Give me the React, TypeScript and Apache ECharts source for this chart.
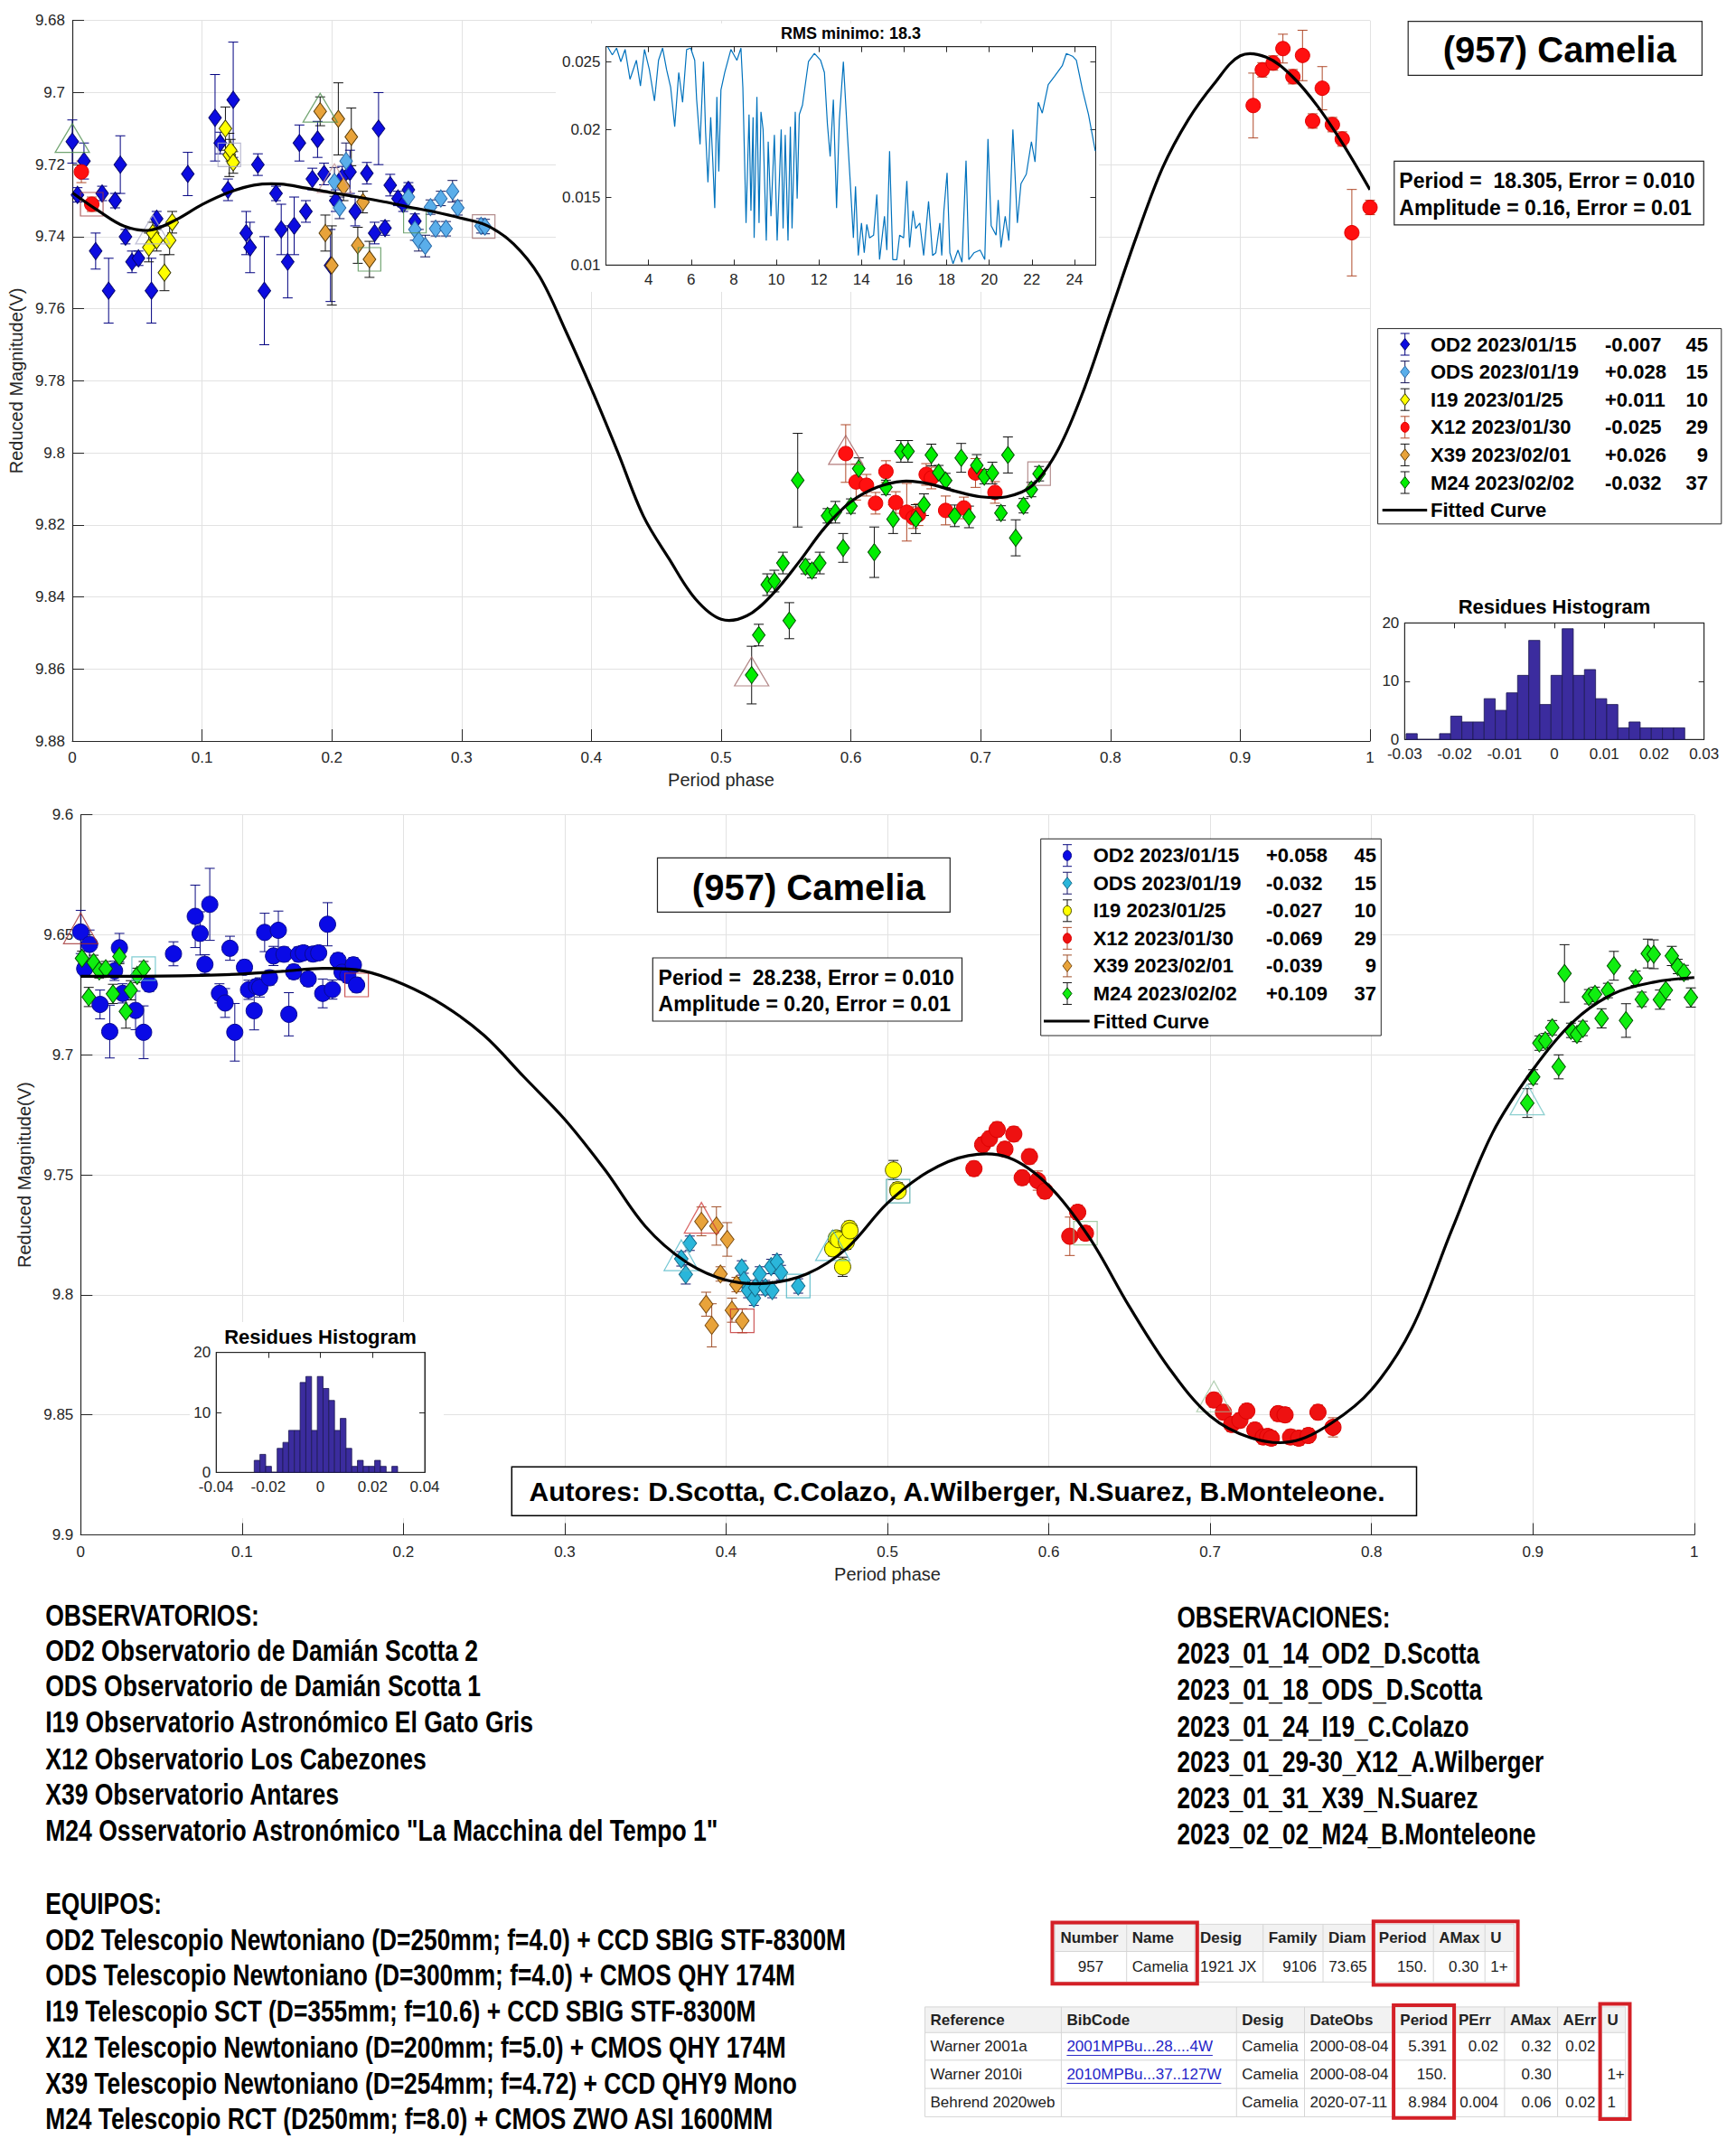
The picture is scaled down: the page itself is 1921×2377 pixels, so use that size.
import React, { useEffect, useRef } from "react";
import * as echarts from "echarts";

const FONT = '"Liberation Sans", Arial, Helvetica, sans-serif';
const AX = "#262626";
const GRIDC = "#e2e2e2";

// ---------------- TOP CHART (period 18.305 h) : [phase, reduced mag, error]
const topOD2 = [
  [0.000, 9.7136, 0.006], [0.004, 9.7284, 0.002], [0.009, 9.719, 0.005], [0.018, 9.744, 0.005], [0.023, 9.728, 0.002],
  [0.028, 9.755, 0.009], [0.033, 9.730, 0.002], [0.037, 9.720, 0.008], [0.041, 9.740, 0.002], [0.046, 9.747, 0.003],
  [0.051, 9.746, 0.002], [0.061, 9.755, 0.009], [0.065, 9.735, 0.002], [0.089, 9.7226, 0.006], [0.110, 9.707, 0.012],
  [0.114, 9.714, 0.003], [0.120, 9.727, 0.003], [0.124, 9.702, 0.016], [0.134, 9.739, 0.006], [0.137, 9.743, 0.007],
  [0.143, 9.720, 0.003], [0.148, 9.755, 0.015], [0.157, 9.728, 0.002], [0.161, 9.738, 0.007], [0.166, 9.747, 0.010],
  [0.171, 9.737, 0.008], [0.175, 9.714, 0.005], [0.180, 9.733, 0.003], [0.185, 9.724, 0.003], [0.189, 9.713, 0.005],
  [0.194, 9.7226, 0.003], [0.199, 9.748, 0.010], [0.203, 9.730, 0.003], [0.208, 9.7235, 0.003], [0.214, 9.722, 0.006],
  [0.218, 9.733, 0.004], [0.227, 9.7224, 0.003], [0.233, 9.739, 0.003], [0.236, 9.710, 0.010], [0.241, 9.7376, 0.002],
  [0.245, 9.7257, 0.003], [0.251, 9.7294, 0.002], [0.255, 9.731, 0.002], [0.259, 9.727, 0.002], [0.264, 9.7357, 0.002],
];
const topODS = [
  [0.202, 9.7248, 0.004], [0.206, 9.732, 0.003], [0.211, 9.719, 0.005], [0.259, 9.729, 0.003], [0.264, 9.738, 0.003],
  [0.267, 9.741, 0.003], [0.272, 9.7426, 0.003], [0.276, 9.7318, 0.002], [0.280, 9.7378, 0.002], [0.284, 9.7294, 0.002],
  [0.288, 9.7378, 0.002], [0.293, 9.7274, 0.003], [0.297, 9.732, 0.002], [0.315, 9.737, 0.002], [0.318, 9.7372, 0.002],
];
const topI19 = [
  [0.059, 9.743, 0.004], [0.062, 9.739, 0.003], [0.065, 9.741, 0.003], [0.071, 9.750, 0.005], [0.075, 9.741, 0.004],
  [0.077, 9.736, 0.003], [0.118, 9.710, 0.006], [0.121, 9.7173, 0.006], [0.122, 9.716, 0.003], [0.124, 9.7194, 0.003],
];
const topX12 = [
  [0.007, 9.722, 0.003], [0.015, 9.731, 0.002],
  [0.596, 9.8002, 0.008], [0.604, 9.8081, 0.005], [0.612, 9.809, 0.003], [0.619, 9.814, 0.003], [0.627, 9.8052, 0.003],
  [0.6345, 9.8138, 0.003], [0.643, 9.8165, 0.008], [0.648, 9.818, 0.003], [0.652, 9.8172, 0.003], [0.658, 9.806, 0.003],
  [0.662, 9.807, 0.003], [0.673, 9.816, 0.004], [0.687, 9.8153, 0.003], [0.696, 9.8056, 0.004], [0.711, 9.811, 0.003],
  [0.910, 9.7036, 0.009], [0.917, 9.6937, 0.002], [0.9254, 9.6918, 0.002], [0.9329, 9.6878, 0.004], [0.9406, 9.6956, 0.002],
  [0.948, 9.6897, 0.007], [0.9558, 9.7079, 0.002], [0.9632, 9.6988, 0.006], [0.971, 9.7089, 0.002], [0.9786, 9.7129, 0.002],
  [0.986, 9.7389, 0.012], [1.0, 9.7319, 0.002],
];
const topX39 = [
  [0.191, 9.7052, 0.004], [0.195, 9.739, 0.005], [0.200, 9.748, 0.011], [0.205, 9.7073, 0.010], [0.209, 9.726, 0.004],
  [0.215, 9.7123, 0.008], [0.220, 9.7424, 0.005], [0.224, 9.7304, 0.003], [0.229, 9.7463, 0.005],
];
const topM24 = [
  [0.5235, 9.8617, 0.008], [0.529, 9.8506, 0.003], [0.5355, 9.8366, 0.003], [0.541, 9.8356, 0.003], [0.5476, 9.8306, 0.003],
  [0.5525, 9.8466, 0.005], [0.559, 9.8076, 0.013], [0.565, 9.8316, 0.002], [0.570, 9.8327, 0.002], [0.576, 9.8306, 0.003],
  [0.582, 9.8175, 0.002], [0.588, 9.8165, 0.003], [0.594, 9.8264, 0.004], [0.600, 9.8148, 0.002], [0.606, 9.8044, 0.003],
  [0.618, 9.8276, 0.007], [0.627, 9.8096, 0.002], [0.6325, 9.8184, 0.004], [0.6385, 9.7996, 0.003], [0.644, 9.7996, 0.003],
  [0.650, 9.8184, 0.004], [0.6563, 9.8144, 0.003], [0.662, 9.8006, 0.003], [0.6676, 9.8055, 0.002], [0.673, 9.8077, 0.002],
  [0.680, 9.8175, 0.003], [0.685, 9.8014, 0.004], [0.691, 9.8178, 0.003], [0.697, 9.8035, 0.003], [0.7028, 9.8066, 0.002],
  [0.709, 9.8056, 0.003], [0.7156, 9.8167, 0.002], [0.721, 9.8006, 0.005], [0.727, 9.8236, 0.005], [0.733, 9.8147, 0.002],
  [0.739, 9.8102, 0.002], [0.745, 9.8058, 0.002],
];
const topCurve = [
  [0, 9.7278], [0.02, 9.7328], [0.04, 9.7371], [0.06, 9.7382], [0.08, 9.7353], [0.10, 9.7311], [0.12, 9.7278],
  [0.14, 9.7257], [0.16, 9.7254], [0.18, 9.7265], [0.20, 9.7278], [0.22, 9.729], [0.24, 9.7303], [0.26, 9.7318],
  [0.28, 9.7332], [0.30, 9.7349], [0.32, 9.737], [0.34, 9.742], [0.36, 9.751], [0.38, 9.766], [0.40, 9.7822],
  [0.42, 9.7995], [0.44, 9.8175], [0.46, 9.8295], [0.48, 9.8405], [0.50, 9.8462], [0.52, 9.8452],
  [0.54, 9.8391], [0.56, 9.8303], [0.58, 9.8207], [0.60, 9.8136], [0.62, 9.8096], [0.64, 9.8079], [0.66, 9.8086],
  [0.68, 9.8106], [0.70, 9.8122], [0.72, 9.8122], [0.74, 9.809], [0.76, 9.7989], [0.78, 9.782], [0.80, 9.761],
  [0.82, 9.740], [0.84, 9.721], [0.86, 9.7075], [0.88, 9.6975], [0.90, 9.6898], [0.92, 9.6902],
  [0.94, 9.6955], [0.96, 9.704], [0.98, 9.7148], [1.0, 9.727],
];
const topTriangles = [[0.0, 9.7136], [0.062, 9.739], [0.191, 9.7052], [0.202, 9.7248], [0.596, 9.8002], [0.5235, 9.8617]];
const topTriangleColors = ["#4f8f4f", "#b0b0cc", "#4f8f4f", "#c79a9a", "#a05a5a", "#a06a6a"];
const topSquares = [[0.015, 9.731], [0.121, 9.7173], [0.229, 9.7463], [0.264, 9.7357], [0.317, 9.7372], [0.745, 9.8058]];
const topSquareColors = ["#9a3a3a", "#a8a8c4", "#4f8f4f", "#4f8f4f", "#a07070", "#a07070"];

// RMS periodogram inset: [period (h), rms]
const rmsCurve = [
  [2.08, 0.0261], [2.3, 0.0255], [2.5, 0.026], [2.7, 0.025], [2.9, 0.0259], [3.13, 0.0237], [3.43, 0.0251], [3.62, 0.0232],
  [3.81, 0.0259], [4.04, 0.0244], [4.28, 0.0221], [4.47, 0.0251], [4.66, 0.026], [4.85, 0.0244], [5.04, 0.0231], [5.23, 0.0202],
  [5.42, 0.0242], [5.6, 0.022], [5.79, 0.0259], [5.98, 0.026], [6.17, 0.0251], [6.26, 0.0222], [6.42, 0.0189], [6.58, 0.025],
  [6.68, 0.0198], [6.79, 0.0161], [6.92, 0.0209], [7.02, 0.0176], [7.11, 0.0142], [7.21, 0.0224], [7.3, 0.0169], [7.4, 0.0229],
  [7.58, 0.0242], [7.87, 0.0259], [8.15, 0.0251], [8.34, 0.026], [8.43, 0.0231], [8.58, 0.0131], [8.72, 0.0211], [8.81, 0.014],
  [8.91, 0.0209], [8.96, 0.012], [9.09, 0.0224], [9.19, 0.0131], [9.28, 0.0213], [9.38, 0.02], [9.53, 0.0118], [9.62, 0.0191],
  [9.75, 0.0136], [9.91, 0.0196], [10.04, 0.0118], [10.23, 0.02], [10.32, 0.0127], [10.42, 0.0196], [10.55, 0.0118], [10.66, 0.0202],
  [10.74, 0.0127], [10.89, 0.0213], [10.98, 0.0149], [11.08, 0.0211], [11.23, 0.0218], [11.51, 0.025], [11.79, 0.0256], [12.08, 0.0251],
  [12.26, 0.0242], [12.4, 0.0204], [12.53, 0.018], [12.68, 0.0222], [12.83, 0.0142], [12.96, 0.0207], [13.15, 0.025], [13.34, 0.0196],
  [13.47, 0.0162], [13.62, 0.012], [13.72, 0.0158], [13.85, 0.0107], [14.0, 0.0131], [14.13, 0.0109], [14.25, 0.013], [14.38, 0.012],
  [14.57, 0.0122], [14.72, 0.0152], [14.85, 0.0104], [15.08, 0.0136], [15.19, 0.0111], [15.32, 0.0184], [15.47, 0.0104], [15.66, 0.0104],
  [15.79, 0.0122], [15.98, 0.012], [16.13, 0.0162], [16.26, 0.0113], [16.42, 0.014], [16.55, 0.0127], [16.74, 0.0131], [16.92, 0.0107],
  [17.15, 0.0147], [17.34, 0.0107], [17.49, 0.0109], [17.68, 0.0131], [17.77, 0.0107], [17.87, 0.014], [18.02, 0.0168], [18.15, 0.0109],
  [18.3, 0.0101], [18.53, 0.0111], [18.72, 0.0102], [18.91, 0.0177], [19.04, 0.0104], [19.28, 0.0109], [19.57, 0.0111], [19.79, 0.0104],
  [19.94, 0.0193], [20.09, 0.0129], [20.32, 0.0122], [20.42, 0.0148], [20.55, 0.0113], [20.75, 0.0136], [20.92, 0.0118], [21.11, 0.02],
  [21.32, 0.0131], [21.49, 0.016], [21.74, 0.0167], [21.98, 0.0191], [22.15, 0.0176], [22.3, 0.022], [22.49, 0.0212], [22.77, 0.0233],
  [23.06, 0.0239], [23.43, 0.0247], [23.62, 0.0256], [23.91, 0.0254], [24.09, 0.0251], [24.38, 0.0229], [24.66, 0.0211], [24.98, 0.0184],
];

// Top residues histogram
const topHistStart = -0.0297;
const topHistWidth = 0.002233;
const topHistCounts = [1, 0, 0, 1, 4, 3, 3, 7, 5, 8, 11, 17, 6, 11, 19, 11, 12, 7, 6, 2, 3, 2, 2, 2, 2];

// ---------------- BOTTOM CHART (period 28.238 h)
const botOD2 = [
  [0.000, 9.6488, 0.009], [0.0025, 9.6641, 0.003], [0.0055, 9.654, 0.006], [0.012, 9.679, 0.006], [0.018, 9.6903, 0.011],
  [0.021, 9.665, 0.004], [0.024, 9.6554, 0.006], [0.026, 9.6744, 0.004], [0.034, 9.6815, 0.008], [0.039, 9.6906, 0.011],
  [0.0425, 9.6706, 0.003], [0.0575, 9.6579, 0.005], [0.071, 9.6423, 0.013], [0.074, 9.6494, 0.009], [0.077, 9.6623, 0.004],
  [0.080, 9.6373, 0.015], [0.086, 9.6744, 0.004], [0.0895, 9.6784, 0.006], [0.0925, 9.6556, 0.005], [0.0955, 9.6906, 0.012],
  [0.1015, 9.6635, 0.003], [0.104, 9.6729, 0.004], [0.1075, 9.6816, 0.008], [0.109, 9.6715, 0.003], [0.111, 9.6719, 0.004],
  [0.114, 9.649, 0.008], [0.117, 9.6679, 0.003], [0.1195, 9.6588, 0.004], [0.1225, 9.6481, 0.008], [0.126, 9.6581, 0.003],
  [0.129, 9.6831, 0.009], [0.132, 9.6654, 0.003], [0.135, 9.6581, 0.003], [0.138, 9.6575, 0.003], [0.141, 9.6684, 0.003],
  [0.144, 9.658, 0.003], [0.1475, 9.6575, 0.003], [0.150, 9.6744, 0.006], [0.153, 9.6456, 0.009], [0.156, 9.6728, 0.004],
  [0.1595, 9.6606, 0.003], [0.162, 9.6656, 0.003], [0.1655, 9.6669, 0.003], [0.169, 9.6625, 0.003], [0.171, 9.6709, 0.003],
];
const botODS = [
  [0.3722, 9.785, 0.003], [0.375, 9.7915, 0.004], [0.3775, 9.7785, 0.003], [0.4097, 9.7888, 0.003], [0.411, 9.794, 0.003],
  [0.4136, 9.7982, 0.003], [0.4172, 9.8014, 0.003], [0.418, 9.797, 0.003], [0.4208, 9.7913, 0.003], [0.4243, 9.797, 0.003],
  [0.4279, 9.7882, 0.003], [0.4286, 9.7982, 0.003], [0.4315, 9.7863, 0.003], [0.434, 9.7907, 0.003], [0.4447, 9.7963, 0.003],
];
const botI19 = [
  [0.4661, 9.7808, 0.003], [0.4683, 9.7763, 0.003], [0.4696, 9.777, 0.003], [0.4722, 9.7883, 0.004], [0.4745, 9.778, 0.003],
  [0.4764, 9.7723, 0.003], [0.4768, 9.7733, 0.003], [0.5037, 9.748, 0.004], [0.5063, 9.7562, 0.003], [0.5066, 9.7568, 0.002],
];
const botX12 = [
  [0.5536, 9.7474, 0.003], [0.559, 9.7374, 0.003], [0.5632, 9.7349, 0.003], [0.568, 9.7311, 0.003], [0.5728, 9.7393, 0.003],
  [0.5783, 9.733, 0.003], [0.5835, 9.7512, 0.003], [0.588, 9.7424, 0.003], [0.5931, 9.7524, 0.004], [0.5976, 9.7568, 0.003],
  [0.613, 9.7756, 0.008], [0.6179, 9.7656, 0.003], [0.6227, 9.7743, 0.003],
  [0.7023, 9.8438, 0.003], [0.7082, 9.8489, 0.003], [0.7133, 9.854, 0.003], [0.7184, 9.8523, 0.003], [0.7227, 9.8484, 0.003],
  [0.7277, 9.8563, 0.003], [0.7329, 9.8592, 0.003], [0.7356, 9.859, 0.003], [0.7379, 9.8597, 0.003], [0.7421, 9.8495, 0.003],
  [0.7464, 9.85, 0.003], [0.7498, 9.8592, 0.003], [0.7549, 9.8597, 0.003], [0.7608, 9.8586, 0.003], [0.7668, 9.8489, 0.003],
  [0.7761, 9.8552, 0.004],
];
const botX39 = [
  [0.3847, 9.7694, 0.006], [0.3876, 9.8039, 0.005], [0.3911, 9.8127, 0.009], [0.394, 9.7713, 0.008], [0.3965, 9.7913, 0.003],
  [0.4007, 9.7769, 0.007], [0.4036, 9.8064, 0.005], [0.4064, 9.7957, 0.003], [0.41, 9.8108, 0.005],
];
const botM24 = [
  [0.0008, 9.6598, 0.003], [0.005, 9.6759, 0.004], [0.008, 9.6615, 0.003], [0.0115, 9.665, 0.003], [0.0155, 9.6641, 0.003],
  [0.020, 9.6746, 0.004], [0.024, 9.659, 0.003], [0.028, 9.6819, 0.007], [0.031, 9.6731, 0.004], [0.035, 9.6669, 0.003],
  [0.039, 9.6641, 0.003],
  [0.8965, 9.7201, 0.006], [0.9002, 9.7092, 0.003], [0.904, 9.6951, 0.003], [0.9077, 9.6941, 0.003], [0.912, 9.6887, 0.003],
  [0.916, 9.705, 0.005], [0.9196, 9.6661, 0.012], [0.9236, 9.6898, 0.003], [0.9273, 9.6915, 0.003], [0.931, 9.689, 0.003],
  [0.9347, 9.6758, 0.003], [0.9385, 9.6748, 0.003], [0.9426, 9.6848, 0.004], [0.9465, 9.6732, 0.003], [0.9502, 9.6629, 0.006],
  [0.9577, 9.6857, 0.007], [0.9637, 9.6681, 0.003], [0.9675, 9.6769, 0.003], [0.9712, 9.6578, 0.006], [0.9749, 9.6581, 0.006],
  [0.9787, 9.677, 0.004], [0.9824, 9.6731, 0.004], [0.9861, 9.6588, 0.004], [0.9898, 9.6632, 0.003], [0.9936, 9.6657, 0.003],
  [0.9979, 9.6761, 0.004],
];
const botCurve = [
  [0, 9.6673], [0.025, 9.6673], [0.05, 9.6672], [0.075, 9.6669], [0.1, 9.6663], [0.125, 9.6652], [0.15, 9.664],
  [0.175, 9.665], [0.2, 9.6706], [0.225, 9.6794], [0.25, 9.6919], [0.275, 9.7094], [0.3, 9.7269], [0.325, 9.748],
  [0.35, 9.7715], [0.375, 9.7862], [0.4, 9.7938], [0.425, 9.7952], [0.45, 9.7913], [0.475, 9.7805], [0.5, 9.7618],
  [0.525, 9.7488], [0.55, 9.742], [0.575, 9.7428], [0.6, 9.7545], [0.625, 9.776], [0.65, 9.805], [0.675, 9.831],
  [0.7, 9.8505], [0.725, 9.8595], [0.75, 9.8612], [0.775, 9.8535], [0.8, 9.8395], [0.825, 9.814], [0.85, 9.7725],
  [0.875, 9.7325], [0.9, 9.7062], [0.925, 9.6862], [0.95, 9.6745], [0.975, 9.6697], [1.0, 9.6678],
];
const botTriangles = [[0.0, 9.6488], [0.3847, 9.7694], [0.3722, 9.785], [0.4661, 9.7808], [0.8965, 9.7201], [0.7023, 9.8438]];
const botTriangleColors = ["#a03030", "#d04040", "#50b8c8", "#50b8c8", "#70c4c4", "#a0c4a0"];
const botSquares = [[0.171, 9.6709], [0.039, 9.6641], [0.41, 9.8108], [0.4447, 9.7963], [0.5066, 9.7568], [0.6227, 9.7743]];
const botSquareColors = ["#c03030", "#60c0c8", "#c03030", "#40b0c0", "#40a0a0", "#90c090"];

// Bottom residues histogram
const botHistStart = -0.0254;
const botHistWidth = 0.0022;
const botHistCounts = [2, 3, 1, 0, 4, 5, 7, 7, 15, 16, 7, 16, 14, 12, 7, 9, 4, 1, 2, 1, 1, 2, 1, 0, 1];

// Legend rows
const topLegendRows = [
  ["OD2 2023/01/15", "-0.007", "45"], ["ODS 2023/01/19", "+0.028", "15"], ["I19 2023/01/25", "+0.011", "10"],
  ["X12 2023/01/30", "-0.025", "29"], ["X39 2023/02/01", "+0.026", "9"], ["M24 2023/02/02", "-0.032", "37"],
];
const botLegendRows = [
  ["OD2 2023/01/15", "+0.058", "45"], ["ODS 2023/01/19", "-0.032", "15"], ["I19 2023/01/25", "-0.027", "10"],
  ["X12 2023/01/30", "-0.069", "29"], ["X39 2023/02/01", "-0.039", "9"], ["M24 2023/02/02", "+0.109", "37"],
];

const observatorios = [
  "OBSERVATORIOS:",
  "OD2 Observatorio de Damián Scotta 2",
  "ODS Observatorio de Damián Scotta 1",
  "I19 Observatorio Astronómico El Gato Gris",
  "X12 Observatorio Los Cabezones",
  "X39 Observatorio Antares",
  'M24 Osservatorio Astronómico "La Macchina del Tempo 1"',
];
const equipos = [
  "EQUIPOS:",
  "OD2 Telescopio Newtoniano (D=250mm; f=4.0) + CCD SBIG STF-8300M",
  "ODS Telescopio Newtoniano (D=300mm; f=4.0) + CMOS QHY 174M",
  "I19 Telescopio SCT (D=355mm; f=10.6) + CCD SBIG STF-8300M",
  "X12 Telescopio Newtoniano (D=200mm; f=5.0) + CMOS QHY 174M",
  "X39 Telescopio Newtoniano (D=254mm; f=4.72) + CCD QHY9 Mono",
  "M24 Telescopio RCT (D250mm; f=8.0) + CMOS ZWO ASI 1600MM",
];
const observaciones = [
  "OBSERVACIONES:",
  "2023_01_14_OD2_D.Scotta",
  "2023_01_18_ODS_D.Scotta",
  "2023_01_24_I19_C.Colazo",
  "2023_01_29-30_X12_A.Wilberger",
  "2023_01_31_X39_N.Suarez",
  "2023_02_02_M24_B.Monteleone",
];
const table1Header = ["Number", "Name", "Desig", "Family", "Diam", "Period", "AMax", "U"];
const table1Row = ["957", "Camelia", "1921 JX", "9106", "73.65", "150.", "0.30", "1+"];
const table2Header = ["Reference", "BibCode", "Desig", "DateObs", "Period", "PErr", "AMax", "AErr", "U"];
const table2Rows = [
  ["Warner 2001a", "2001MPBu...28....4W", "Camelia", "2000-08-04", "5.391", "0.02", "0.32", "0.02", ""],
  ["Warner 2010i", "2010MPBu...37..127W", "Camelia", "2000-08-04", "150.", "", "0.30", "", "1+"],
  ["Behrend 2020web", "", "Camelia", "2020-07-11", "8.984", "0.004", "0.06", "0.02", "1"],
];

// ---------------- styles
const topStyles: any = {
  OD2: { shape: "diamond", fill: "#0c0ce0", edge: "#06066e", err: "#000080" },
  ODS: { shape: "diamond", fill: "#5aaeea", edge: "#2a6aa8", err: "#14145a" },
  I19: { shape: "diamond", fill: "#ffff00", edge: "#3a3a00", err: "#111111" },
  X12: { shape: "circle", fill: "#ff1010", edge: "#e00000", err: "#b04a2a" },
  X39: { shape: "diamond", fill: "#e8a33a", edge: "#5a3c08", err: "#111111" },
  M24: { shape: "diamond", fill: "#00ee00", edge: "#004a00", err: "#111111" },
};
const botStyles: any = {
  OD2: { shape: "circle", fill: "#0a0ae6", edge: "#0a0a90", err: "#0a0a80" },
  ODS: { shape: "diamond", fill: "#2ab6da", edge: "#146a8a", err: "#14146a" },
  I19: { shape: "circle", fill: "#ffff00", edge: "#555500", err: "#111111" },
  X12: { shape: "circle", fill: "#ee1111", edge: "#dd0000", err: "#b04a2a" },
  X39: { shape: "diamond", fill: "#e8a33a", edge: "#7a4a10", err: "#a0502a" },
  M24: { shape: "diamond", fill: "#10ee10", edge: "#005000", err: "#111111" },
};

function errSeries(xi: number, yi: number, pts: number[][], color: string) {
  return {
    type: "custom", xAxisIndex: xi, yAxisIndex: yi, z: 2, data: pts, encode: { x: 0, y: 1 }, silent: true,
    renderItem: (_p: any, api: any) => {
      const x = api.value(0), y = api.value(1), e = api.value(2);
      const a = api.coord([x, y - e]);
      const b = api.coord([x, y + e]);
      const hw = 5.5;
      const st = { stroke: color, lineWidth: 1 };
      return {
        type: "group",
        children: [
          { type: "line", shape: { x1: a[0], y1: a[1], x2: b[0], y2: b[1] }, style: st },
          { type: "line", shape: { x1: a[0] - hw, y1: a[1], x2: a[0] + hw, y2: a[1] }, style: st },
          { type: "line", shape: { x1: b[0] - hw, y1: b[1], x2: b[0] + hw, y2: b[1] }, style: st },
        ],
      };
    },
  };
}
function markSeries(xi: number, yi: number, pts: number[][], st: any, diamondSize: number[], circleSize: number) {
  return {
    type: "scatter", xAxisIndex: xi, yAxisIndex: yi, z: 3, silent: true,
    data: pts.map((p) => [p[0], p[1]]),
    symbol: st.shape === "circle" ? "circle" : "diamond",
    symbolSize: st.shape === "circle" ? circleSize : diamondSize,
    itemStyle: { color: st.fill, borderColor: st.edge, borderWidth: 1, opacity: 1 },
  };
}
function outlineSeries(xi: number, yi: number, pts: number[][], colors: string[], symbol: string, size: number[], offset: number[]) {
  return {
    type: "scatter", xAxisIndex: xi, yAxisIndex: yi, z: 4, silent: true, symbol, symbolSize: size, symbolOffset: offset,
    data: pts.map((p, i) => ({ value: p, itemStyle: { color: "rgba(0,0,0,0)", borderColor: colors[i], borderWidth: 1.2 } })),
  };
}
// fitted curve: one custom item that maps every read point through the axes and draws a smooth polyline
function curveSeries(xi: number, yi: number, pts: number[][]) {
  return {
    type: "custom", xAxisIndex: xi, yAxisIndex: yi, z: 5, silent: true, clip: true,
    data: [pts[0]], encode: { x: 0, y: 1 },
    renderItem: (_p: any, api: any) => {
      const points = pts.map((p) => api.coord(p));
      return { type: "polyline", shape: { points, smooth: 0.35 }, style: { stroke: "#000", lineWidth: 3.2, fill: null } };
    },
  };
}
function histSeries(xi: number, yi: number, start: number, width: number, counts: number[]) {
  const data = counts.map((c, i) => [start + i * width, start + (i + 1) * width, c]);
  return {
    type: "custom", xAxisIndex: xi, yAxisIndex: yi, z: 7, data, encode: { x: [0, 1], y: 2 }, silent: true,
    renderItem: (_p: any, api: any) => {
      const a = api.coord([api.value(0), 0]);
      const b = api.coord([api.value(1), api.value(2)]);
      return {
        type: "rect",
        shape: { x: a[0], y: b[1], width: b[0] - a[0], height: a[1] - b[1] },
        style: { fill: "#3b2c9e", stroke: "#1c1850", lineWidth: 0.8 },
      };
    },
  };
}

function mainX(grid: number) {
  return {
    gridIndex: grid, type: "value", min: 0, max: 1, interval: 0.1,
    name: "Period phase", nameLocation: "middle", nameGap: 33,
    nameTextStyle: { fontSize: 20, color: AX, fontFamily: FONT },
    axisLine: { show: true, onZero: false, lineStyle: { color: AX, width: 1.2 } },
    axisTick: { show: true, inside: true, length: 13, lineStyle: { color: AX } },
    axisLabel: { fontSize: 17, color: AX, fontFamily: FONT, margin: 10 },
    splitLine: { show: true, lineStyle: { color: GRIDC, width: 1 } },
  };
}
function mainY(grid: number, min: number, max: number, interval: number, gap: number) {
  return {
    gridIndex: grid, type: "value", inverse: true, min, max, interval,
    name: "Reduced Magnitude(V)", nameLocation: "middle", nameRotate: 90, nameGap: gap,
    nameTextStyle: { fontSize: 20, color: AX, fontFamily: FONT },
    axisLine: { show: true, onZero: false, lineStyle: { color: AX, width: 1.2 } },
    axisTick: { show: true, inside: true, length: 13, lineStyle: { color: AX } },
    axisLabel: { fontSize: 17, color: AX, fontFamily: FONT, margin: 8 },
    splitLine: { show: true, lineStyle: { color: GRIDC, width: 1 } },
  };
}
function insetAxis(grid: number, min: number, max: number, interval: number, position: string, labels: boolean, isX: boolean) {
  return {
    gridIndex: grid, type: "value", min, max, interval, position, z: 6,
    axisLine: { show: true, onZero: false, lineStyle: { color: AX, width: 1 } },
    axisTick: { show: true, inside: true, length: 6, lineStyle: { color: AX } },
    axisLabel: { show: labels, fontSize: 17, color: AX, fontFamily: FONT, margin: isX ? 8 : 6, showMinLabel: isX && min === 2 ? false : true, showMaxLabel: max === 0.0261 || max === 25 ? false : true },
    splitLine: { show: false },
  };
}

function txt(x: number, y: number, text: string, font: string, align = "left", color = "#000", extra: any = {}) {
  return {
    type: "text", x, y, z: 20, silent: true, ...extra,
    style: { text, x: 0, y: 0, font, fill: color, textAlign: align, align, textVerticalAlign: "middle", verticalAlign: "middle" },
  };
}
function rect(x: number, y: number, w: number, h: number, fill: string, stroke: string | null, lw = 1, z = 19) {
  return { type: "rect", z, silent: true, shape: { x, y, width: w, height: h }, style: { fill, stroke: stroke || "none", lineWidth: lw } };
}
function line(x1: number, y1: number, x2: number, y2: number, color: string, lw = 1, z = 21) {
  return { type: "line", z, silent: true, shape: { x1, y1, x2, y2 }, style: { stroke: color, lineWidth: lw } };
}

function legend(box: number[], rowY0: number, step: number, mx: number, tx: number, ox: number, cx: number, rows: string[][], styles: any, lineX: number[], fitY: number) {
  const keys = ["OD2", "ODS", "I19", "X12", "X39", "M24"];
  const els: any[] = [rect(box[0], box[1], box[2], box[3], "#fff", AX, 1)];
  const f = `bold 22px ${FONT}`;
  rows.forEach((r, i) => {
    const y = rowY0 + i * step;
    const s = styles[keys[i]];
    els.push(line(mx, y - 12, mx, y + 12, s.err, 1));
    els.push(line(mx - 5, y - 12, mx + 5, y - 12, s.err, 1));
    els.push(line(mx - 5, y + 12, mx + 5, y + 12, s.err, 1));
    if (s.shape === "circle") {
      els.push({ type: "ellipse", z: 22, silent: true, shape: { cx: mx, cy: y, rx: 4.5, ry: 5.5 }, style: { fill: s.fill, stroke: s.edge, lineWidth: 1 } });
    } else {
      els.push({ type: "polygon", z: 22, silent: true, shape: { points: [[mx, y - 6.5], [mx + 5, y], [mx, y + 6.5], [mx - 5, y]] }, style: { fill: s.fill, stroke: s.edge, lineWidth: 1 } });
    }
    els.push(txt(tx, y, r[0], f));
    els.push(txt(ox, y, r[1], f));
    els.push(txt(cx, y, r[2], f, "right"));
  });
  els.push(line(lineX[0], fitY, lineX[1], fitY, "#000", 3));
  els.push(txt(tx, fitY, "Fitted Curve", f));
  return els;
}

function tableEls(cols: number[], rows: number[], header: string[], body: string[][], aligns: string[], links: number[]) {
  const els: any[] = [];
  const f = `17px ${FONT}`;
  const fb = `bold 17px ${FONT}`;
  els.push(rect(cols[0], rows[0], cols[cols.length - 1] - cols[0], rows[1] - rows[0], "#f2f2f2", null, 1, 18));
  for (let r = 1; r < rows.length - 1; r++) {
    els.push(rect(cols[0], rows[r], cols[cols.length - 1] - cols[0], rows[r + 1] - rows[r], "#ffffff", null, 1, 18));
  }
  rows.forEach((y) => els.push(line(cols[0], y, cols[cols.length - 1], y, "#d6d6d6", 1, 19)));
  cols.forEach((x) => els.push(line(x, rows[0], x, rows[rows.length - 1], "#d6d6d6", 1, 19)));
  header.forEach((h, i) => els.push(txt(cols[i] + 6, (rows[0] + rows[1]) / 2, h, fb, "left", "#222")));
  body.forEach((row, ri) => {
    const yc = (rows[ri + 1] + rows[ri + 2]) / 2;
    row.forEach((v, ci) => {
      if (!v) return;
      const a = aligns[ci];
      const x = a === "right" ? cols[ci + 1] - 7 : a === "center" ? (cols[ci] + cols[ci + 1]) / 2 : cols[ci] + 6;
      const isLink = ci === 1 && links.length > 0;
      els.push(txt(x, yc, v, f, a, isLink ? "#2525c8" : "#222"));
      if (isLink) els.push(line(x, yc + 10, x + links[ri], yc + 10, "#2525c8", 1));
    });
  });
  return els;
}

function buildOption() {
  const grids = [
    { left: 80, top: 22.7, width: 1436, height: 797.3 },
    { left: 670.5, top: 51.7, width: 542, height: 241.6, show: true, borderColor: AX, borderWidth: 1, backgroundColor: "#fff", z: 5 },
    { left: 1554.3, top: 689.3, width: 331.4, height: 129, show: true, borderColor: AX, borderWidth: 1, backgroundColor: "#fff", z: 5 },
    { left: 89.3, top: 901.7, width: 1785.5, height: 796.8 },
    { left: 239.2, top: 1496.7, width: 230.8, height: 132.6, show: true, borderColor: AX, borderWidth: 1, backgroundColor: "#fff", z: 5 },
  ];
  const xAxis = [
    mainX(0),
    insetAxis(1, 2, 25, 2, "bottom", true, true),
    insetAxis(1, 2, 25, 2, "top", false, true),
    insetAxis(2, -0.03, 0.03, 0.01, "bottom", true, true),
    insetAxis(2, -0.03, 0.03, 0.01, "top", false, true),
    mainX(3),
    insetAxis(4, -0.04, 0.04, 0.02, "bottom", true, true),
    insetAxis(4, -0.04, 0.04, 0.02, "top", false, true),
  ];
  const yAxis = [
    mainY(0, 9.68, 9.88, 0.02, 43),
    insetAxis(1, 0.01, 0.0261, 0.005, "left", true, false),
    insetAxis(1, 0.01, 0.0261, 0.005, "right", false, false),
    insetAxis(2, 0, 20, 10, "left", true, false),
    insetAxis(2, 0, 20, 10, "right", false, false),
    mainY(3, 9.6, 9.9, 0.05, 47),
    insetAxis(4, 0, 20, 10, "left", true, false),
    insetAxis(4, 0, 20, 10, "right", false, false),
  ];

  const series: any[] = [];
  const topSets: any = { OD2: topOD2, ODS: topODS, I19: topI19, X12: topX12, X39: topX39, M24: topM24 };
  const botSets: any = { OD2: botOD2, ODS: botODS, I19: botI19, X12: botX12, X39: botX39, M24: botM24 };
  ["OD2", "ODS", "I19", "X12", "X39", "M24"].forEach((k) => {
    series.push(errSeries(0, 0, topSets[k], topStyles[k].err));
    series.push(markSeries(0, 0, topSets[k], topStyles[k], [14, 19], 16));
    series.push(errSeries(5, 5, botSets[k], botStyles[k].err));
    series.push(markSeries(5, 5, botSets[k], botStyles[k], [15, 20], 18));
  });
  series.push(outlineSeries(0, 0, topTriangles, topTriangleColors, "triangle", [38, 32], [0, -4]));
  series.push(outlineSeries(0, 0, topSquares, topSquareColors, "rect", [25, 26], [0, 0]));
  series.push(outlineSeries(5, 5, botTriangles, botTriangleColors, "triangle", [38, 34], [0, -4]));
  series.push(outlineSeries(5, 5, botSquares, botSquareColors, "rect", [26, 26], [0, 0]));
  series.push(curveSeries(0, 0, topCurve));
  series.push(curveSeries(5, 5, botCurve));
  series.push({ type: "line", xAxisIndex: 1, yAxisIndex: 1, z: 7, data: rmsCurve, showSymbol: false, symbol: "none", lineStyle: { color: "#0072bd", width: 1.2 }, silent: true });
  series.push(histSeries(3, 3, topHistStart, topHistWidth, topHistCounts));
  series.push(histSeries(6, 6, botHistStart, botHistWidth, botHistCounts));

  const g: any[] = [];
  g.push({ ...rect(615, 26, 601, 297, "#fff", null, 1, 4) });
  g.push({ ...rect(210, 1463, 281, 217, "#fff", null, 1, 4) });
  g.push(txt(941.5, 36.7, "RMS minimo: 18.3", `bold 18px ${FONT}`, "center"));
  g.push(txt(1720, 671.7, "Residues Histogram", `bold 22px ${FONT}`, "center"));
  g.push(txt(354.5, 1479.3, "Residues Histogram", `bold 22px ${FONT}`, "center"));
  g.push(rect(1558.2, 23.7, 325.2, 59.7, "#fff", AX, 1.2));
  g.push(txt(1725.7, 54.5, "(957) Camelia", `bold 40px ${FONT}`, "center"));
  g.push(rect(727.5, 949.3, 323.8, 60, "#fff", AX, 1.2));
  g.push(txt(894.8, 981.7, "(957) Camelia", `bold 40px ${FONT}`, "center"));
  g.push(rect(1542.8, 178.3, 342.5, 70.5, "#fff", AX, 1.2));
  g.push(txt(1548.3, 199.5, "Period =\u00a0 18.305, Error = 0.010", `bold 23px ${FONT}`));
  g.push(txt(1548.3, 229.6, "Amplitude = 0.16, Error = 0.01", `bold 23px ${FONT}`));
  g.push(rect(722.3, 1060, 342.2, 70, "#fff", AX, 1.2));
  g.push(txt(728.6, 1081.7, "Period =\u00a0 28.238, Error = 0.010", `bold 23px ${FONT}`));
  g.push(txt(728.6, 1111, "Amplitude = 0.20, Error = 0.01", `bold 23px ${FONT}`));
  g.push(...legend([1524.6, 363.6, 380.2, 216.2], 381, 30.6, 1554.7, 1583, 1776, 1890, topLegendRows, topStyles, [1529.7, 1579.2], 564.5));
  g.push(...legend([1151.7, 928.3, 376.6, 217.7], 946.7, 30.55, 1181, 1209.7, 1401, 1523, botLegendRows, botStyles, [1155, 1205.7], 1130));
  g.push(rect(566.3, 1623.3, 1001.2, 54, "#fff", "#000", 1.5));
  g.push(txt(585.5, 1650.5, "Autores: D.Scotta, C.Colazo, A.Wilberger, N.Suarez, B.Monteleone.", `bold 30px ${FONT}`, "left", "#000"));
  const cf = `bold 34px ${FONT}`;
  const obsY = [1786.7, 1825.4, 1865.2, 1904.6, 1945.3, 1984.7, 2024.6];
  observatorios.forEach((s, i) => g.push(txt(50.2, obsY[i], s, cf, "left", "#000", { scaleX: 0.78 })));
  const eqY = [2105.9, 2145.7, 2185.1, 2224.6, 2264.4, 2305, 2343.7];
  equipos.forEach((s, i) => g.push(txt(50.2, eqY[i], s, cf, "left", "#000", { scaleX: 0.775 })));
  const ocY = [1788.8, 1829.4, 1869.3, 1909.9, 1949.3, 1988.8, 2029.4];
  observaciones.forEach((s, i) => g.push(txt(1302.5, ocY[i], s, cf, "left", "#000", { scaleX: 0.77 })));
  g.push(...tableEls([1167.4, 1246.7, 1321.9, 1397.7, 1464, 1519.8, 1586.2, 1643.2, 1675.5], [2129.4, 2159.5, 2193.3],
    table1Header, [table1Row], ["center", "left", "left", "right", "right", "right", "right", "left"], []));
  g.push(...tableEls([1023.5, 1174.4, 1368.3, 1443.5, 1543.3, 1607.9, 1664.9, 1723.6, 1772.4, 1798.8], [2220.9, 2249.3, 2279.8, 2311.1, 2342.4],
    table2Header, table2Rows, ["left", "left", "left", "left", "right", "right", "right", "right", "left"], [161.5, 171, 0]));
  g.push(rect(1164.5, 2127.4, 160.3, 67.9, "none", "#d42027", 4, 25));
  g.push(rect(1519.8, 2126.2, 159.8, 70.3, "none", "#d42027", 4, 25));
  g.push(rect(1542.1, 2218.9, 67, 124.8, "none", "#d42027", 4, 25));
  g.push(rect(1770.6, 2217.6, 32.9, 127.3, "none", "#d42027", 4, 25));

  return {
    animation: false,
    backgroundColor: "#ffffff",
    textStyle: { fontFamily: FONT },
    grid: grids,
    xAxis,
    yAxis,
    series,
    graphic: { elements: g },
  };
}

export default function App() {
  const ref = useRef<HTMLDivElement>(null);
  useEffect(() => {
    const chart = echarts.init(ref.current!, null, { renderer: "svg", width: 1921, height: 2377 });
    chart.setOption(buildOption() as any);
    return () => chart.dispose();
  }, []);
  return <div ref={ref} style={{ position: "absolute", left: 0, top: 0, width: 1921, height: 2377, background: "#fff" }} />;
}
